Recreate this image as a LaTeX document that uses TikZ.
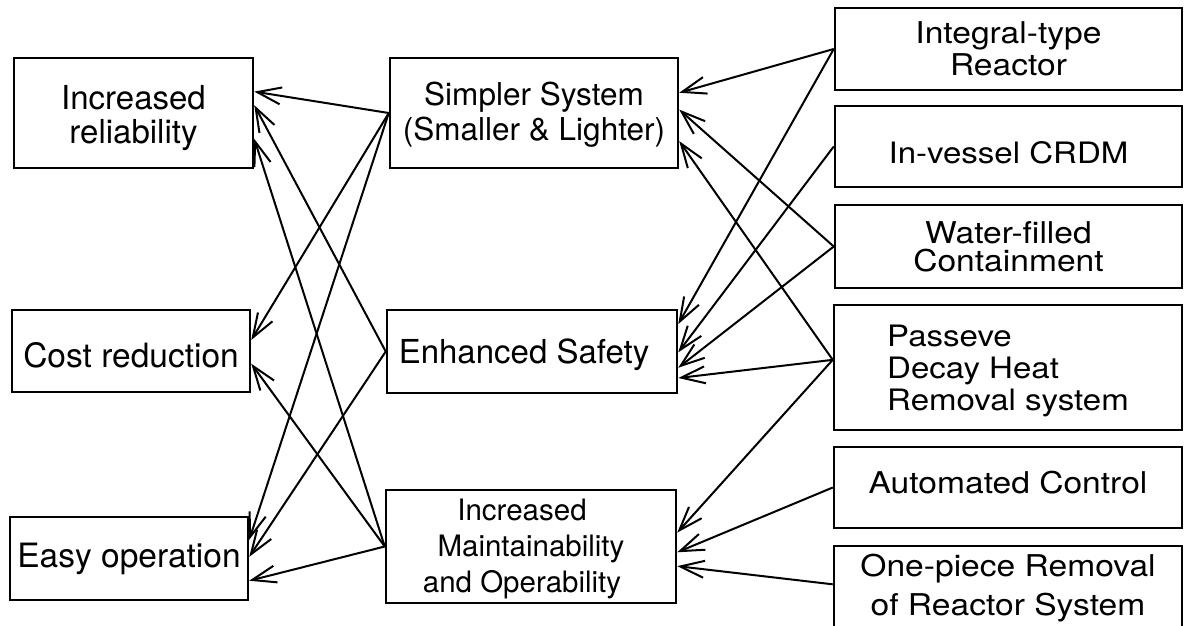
\documentclass[tikz,border=0pt]{standalone}
\usepackage{fontspec}
\setmainfont{TeX Gyre Heros}
\newfontfamily\widefont[FakeStretch=1.12]{TeX Gyre Heros}
\usetikzlibrary{arrows.meta,calc}
% points at a given fraction down the east / west side of a node
\newcommand\eastat[2]{($(#1.north east)!#2!(#1.south east)$)}
\newcommand\westat[2]{($(#1.north west)!#2!(#1.south west)$)}
% invisible struts fixing the height of a first line / depth of a last line
\newcommand\topfix[1]{\rule{0pt}{#1pt}}
\newcommand\botfix[1]{\rule[-#1pt]{0pt}{#1pt}}
\newcommand\fs[2]{\fontsize{#1}{#2}\selectfont}
\newcommand\wfs[2]{\widefont\fontsize{#1}{#2}\selectfont}

\begin{document}
\begin{tikzpicture}[x=1pt,y=-1pt,
  box/.style={draw, line width=2.5pt, inner sep=0pt, align=center},
  link/.style={line width=2pt, -{Straight Barb[length=24pt,width=17pt]}}]
\clip (0,0) rectangle (1184,626);

% effects (left column)
\node[box, minimum width=239pt, minimum height=110pt, font=\fs{33}{34}] (rel) at (133.5,113)
  {\topfix{34}Increased\\reliability\botfix{8}};
\node[box, minimum width=238pt, minimum height=82pt, font=\fs{33.5}{36}] (cost) at (131,351)
  {\topfix{40}Cost reduction\botfix{8}};
\node[box, minimum width=238pt, minimum height=83pt, font=\fs{33.5}{36}] (easy) at (129,558.5)
  {\topfix{30}Easy operation\botfix{12.4}};

% design features (middle column)
\node[box, minimum width=288pt, minimum height=110pt, font=\fs{31.5}{35}] (simp) at (534,113)
  {\topfix{30}Simpler System\\(Smaller \& Lighter)\botfix{11}};
\node[box, minimum width=290pt, minimum height=83pt, font=\fs{33}{36}] (safe) at (532,351.5)
  {\topfix{32}Enhanced Safety\hspace*{16pt}\botfix{8.4}};
\node[box, minimum width=290pt, minimum height=111pt, font=\fs{29.5}{36}] (maint) at (531,546.5)
  {\topfix{30}Increased\hspace*{18pt}\\Maintainability\hspace*{18pt}\\and Operability\hspace*{18pt}\botfix{11}};

% technologies (right column)
\node[box, minimum width=347pt, minimum height=82pt, font=\wfs{30}{31.7}] (integ) at (1008.5,49)
  {\topfix{30}Integral-type\\Reactor\botfix{9.4}};
\node[box, minimum width=347pt, minimum height=81pt, font=\wfs{29.5}{32}] (crdm) at (1008.5,146.5)
  {\topfix{42}In-vessel CRDM\botfix{8.4}};
\node[box, minimum width=347pt, minimum height=83pt, font=\wfs{30}{28.4}] (water) at (1008.5,246.5)
  {\topfix{30}Water-filled\\Containment\botfix{8}};
\node[box, minimum width=348pt, minimum height=125pt, align=left, font=\wfs{29.5}{31.7}] (pdhr) at (1008,367.5)
  {\topfix{30}Passeve\\Decay Heat\\Removal system\botfix{8.2}};
\node[box, minimum width=348pt, minimum height=81pt, font=\wfs{30}{32}] (auto) at (1008,487.5)
  {\topfix{30}Automated Control\botfix{18.4}};
\node[box, minimum width=348pt, minimum height=94pt, font=\wfs{30}{38.3}] (onep) at (1008,593)
  {\topfix{30}One-piece Removal\\of Reactor System\botfix{24.3}};

% design features -> effects
\draw[link] (simp.west) -- \eastat{rel}{0.31};
\draw[link] (simp.west) -- \eastat{cost}{0.37};
\draw[link] (simp.west) -- \eastat{easy}{0.28};
\draw[link] (safe.west) -- \eastat{rel}{0.43};
\draw[link] (safe.west) -- \eastat{easy}{0.48};
\draw[link] (maint.west) -- \eastat{rel}{0.73};
\draw[link] (maint.west) -- \eastat{cost}{0.65};
\draw[link] (maint.west) -- \eastat{easy}{0.76};

% technologies -> design features
\draw[link] (integ.west) -- \eastat{simp}{0.32};
\draw[link] (water.west) -- \eastat{simp}{0.47};
\draw[link] \westat{pdhr}{0.44} -- \eastat{simp}{0.75};
\draw[link] (integ.west) -- \eastat{safe}{0.18};
\draw[link] (crdm.west) -- \eastat{safe}{0.51};
\draw[link] (water.west) -- \eastat{safe}{0.69};
\draw[link] \westat{pdhr}{0.44} -- \eastat{safe}{0.81};
\draw[link] \westat{pdhr}{0.44} -- \eastat{maint}{0.38};
\draw[link] (auto.west) -- \eastat{maint}{0.55};
\draw[link] \westat{onep}{0.41} -- \eastat{maint}{0.67};
\end{tikzpicture}
\end{document}
